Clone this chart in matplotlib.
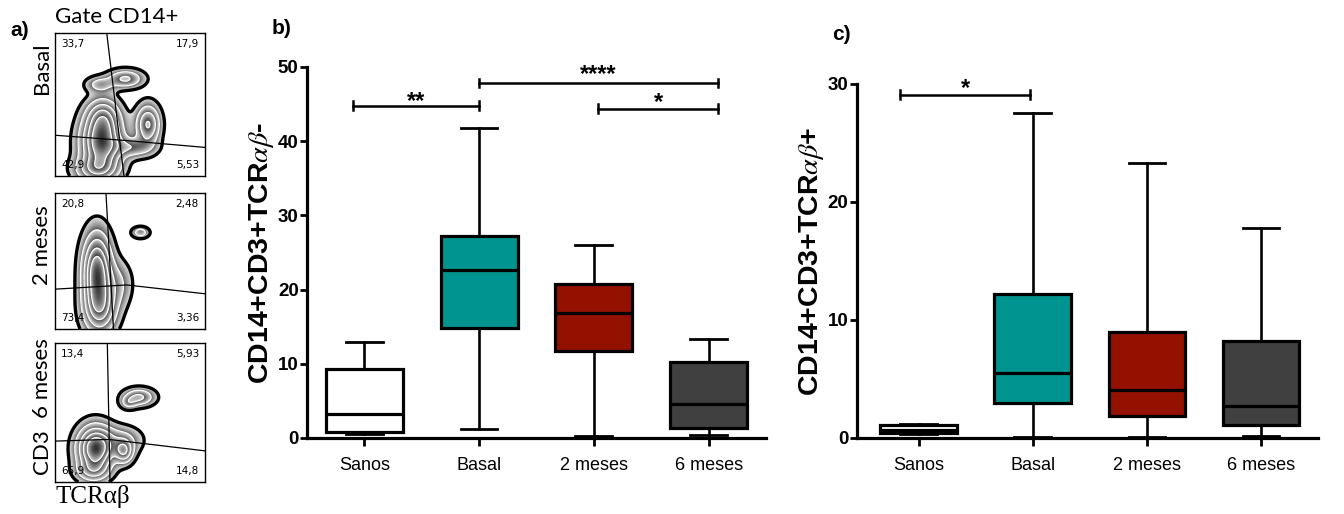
import numpy as np
import matplotlib
matplotlib.use('Agg')
import matplotlib.pyplot as plt

plt.rcParams['mathtext.fontset'] = 'stix'

# ---------------- data ----------------
categories = ['Sanos', 'Basal', '2 meses', '6 meses']
box_colors = ['#ffffff', '#009490', '#941100', '#404040']

# panel b : CD14+CD3+TCRab-
b_whislo = [0.5, 1.2, 0.3, 0.4]
b_q1 = [0.8, 14.8, 11.7, 1.3]
b_med = [3.2, 22.6, 16.8, 4.6]
b_q3 = [9.3, 27.2, 20.8, 10.2]
b_whishi = [13.0, 41.8, 26.0, 13.4]
b_yticks = [0, 10, 20, 30, 40, 50]
b_sig_labels = ['**', '****', '*']
b_sig_x0 = [0.9, 2.0, 3.04]
b_sig_x1 = [2.0, 4.08, 4.08]
b_sig_y = [44.8, 47.8, 44.4]

# panel c : CD14+CD3+TCRab+
c_whislo = [0.3, 0.1, 0.1, 0.2]
c_q1 = [0.4, 3.0, 1.9, 1.1]
c_med = [0.7, 5.5, 4.1, 2.7]
c_q3 = [1.1, 12.2, 9.0, 8.2]
c_whishi = [1.2, 27.5, 23.3, 17.8]
c_yticks = [0, 10, 20, 30]
c_sig_labels = ['*']
c_sig_x0 = [0.84]
c_sig_x1 = [1.98]
c_sig_y = [29.1]

# panel a : flow cytometry zebra plots
a_row_labels = ['Basal', '2 meses', '6 meses']
a_quadrants = [['33,7', '17,9', '42,9', '5,53'],
               ['20,8', '2,48', '73,4', '3,36'],
               ['13,4', '5,93', '65,9', '14,8']]
# population blobs: (x, y, sx, sy, weight) in panel fraction
a_blobs = [
    [(0.31, 0.24, 0.085, 0.12, 1.0), (0.32, 0.42, 0.07, 0.08, 0.45),
     (0.62, 0.36, 0.05, 0.085, 0.60), (0.52, 0.20, 0.09, 0.045, 0.30),
     (0.28, 0.05, 0.09, 0.06, 0.50), (0.47, 0.68, 0.075, 0.04, 0.40),
     (0.30, 0.64, 0.06, 0.035, 0.25)],
    [(0.28, 0.42, 0.06, 0.17, 1.0), (0.30, 0.15, 0.07, 0.12, 0.60),
     (0.42, 0.33, 0.06, 0.11, 0.20), (0.57, 0.71, 0.035, 0.025, 0.30)],
    [(0.27, 0.24, 0.075, 0.10, 1.0), (0.46, 0.22, 0.04, 0.055, 0.50),
     (0.44, 0.30, 0.09, 0.065, 0.22), (0.25, 0.08, 0.07, 0.05, 0.30),
     (0.56, 0.61, 0.065, 0.04, 0.40), (0.49, 0.57, 0.035, 0.03, 0.20)],
]
a_band_levels = [0.05, 0.18, 0.35, 0.55, 0.75]
# gate lines (panel fraction): vertical (top x, bottom x), horizontal (left y, cross x, cross y, right y)
a_vgate = [(0.345, 0.46), (0.34, 0.39), (0.349, 0.367)]
a_hgate = [(0.285, 0.45, 0.25, 0.20), (0.293, 0.478, 0.324, 0.259), (0.294, 0.36, 0.306, 0.224)]

# ---------------- figure ----------------
fig = plt.figure(figsize=(13.44, 5.14), dpi=100)

a_rects = [[0.0409, 0.6576, 0.1116, 0.2782],
           [0.0409, 0.3599, 0.1116, 0.2646],
           [0.0409, 0.0623, 0.1116, 0.2704]]
n = 300
gx, gy = np.meshgrid(np.linspace(0, 1, n), np.linspace(0, 1, n))
for i, rect in enumerate(a_rects):
    ax = fig.add_axes(rect)
    Z = np.zeros_like(gx)
    for (cx, cy, sx, sy, w) in a_blobs[i]:
        Z += w * np.exp(-((gx - cx) ** 2 / (2 * sx ** 2) + (gy - cy) ** 2 / (2 * sy ** 2)))
    Z = Z / Z.max()
    lv = np.array(a_band_levels + [1.01])
    idx = np.clip(np.searchsorted(lv, Z, side='right') - 1, 0, len(lv) - 2)
    frac = (Z - lv[idx]) / (lv[idx + 1] - lv[idx])
    shade = 0.92 - 0.55 * frac - 0.2 * Z
    shade = np.ma.masked_where(Z < a_band_levels[0], shade)
    ax.imshow(shade, cmap='gray', vmin=0, vmax=1, origin='lower', extent=(0, 1, 0, 1),
              aspect='auto', interpolation='bilinear')
    ax.contour(gx, gy, Z, levels=a_band_levels[1:], colors='white', linewidths=0.9)
    ax.contour(gx, gy, Z, levels=[a_band_levels[0]], colors='black', linewidths=2.4)
    vt, vb = a_vgate[i]
    ax.plot([vt, vb], [1, 0], color='black', lw=0.9)
    hl, hcx, hcy, hr = a_hgate[i]
    ax.plot([0, hcx, 1], [hl, hcy, hr], color='black', lw=0.9)
    q = a_quadrants[i]
    kw = dict(fontsize=7.5, family='DejaVu Sans', transform=ax.transAxes)
    ax.text(0.04, 0.92, q[0], ha='left', va='center', **kw)
    ax.text(0.96, 0.92, q[1], ha='right', va='center', **kw)
    ax.text(0.04, 0.08, q[2], ha='left', va='center', **kw)
    ax.text(0.96, 0.08, q[3], ha='right', va='center', **kw)
    ax.set_xlim(0, 1)
    ax.set_ylim(0, 1)
    ax.set_xticks([])
    ax.set_yticks([])
    for s in ax.spines.values():
        s.set_linewidth(1.0)

lab_font = ['Lato', 'DejaVu Sans']
fig.text(42 / 1344, 1 - 68 / 514, 'Basal', rotation=90, ha='center', va='center', fontsize=16, family=lab_font)
fig.text(42 / 1344, 1 - 245 / 514, '2 meses', rotation=90, ha='center', va='center', fontsize=16, family=lab_font)
fig.text(42 / 1344, 1 - 378 / 514, '6 meses', rotation=90, ha='center', va='center', fontsize=16, family=lab_font)
fig.text(42 / 1344, 1 - 452 / 514, 'CD3', rotation=90, ha='center', va='center', fontsize=16, family=lab_font)
fig.text(55 / 1344, 1 - 17 / 514, 'Gate CD14+', ha='left', va='center', fontsize=16, family=lab_font)
fig.text(55 / 1344, 1 - 497 / 514, 'TCRαβ', ha='left', va='center', fontsize=18, family=['Liberation Serif', 'DejaVu Serif'])

bold_font = ['Liberation Sans', 'DejaVu Sans']
fig.text(10 / 1344, 1 - 30 / 514, 'a)', ha='left', va='center', fontsize=15, fontweight='bold', family=bold_font)
fig.text(272 / 1344, 1 - 28 / 514, 'b)', ha='left', va='center', fontsize=15, fontweight='bold', family=bold_font)
fig.text(832 / 1344, 1 - 34 / 514, 'c)', ha='left', va='center', fontsize=15, fontweight='bold', family=bold_font)

STAR_PT = 17


def box_panel(rect, whislo, q1, med, q3, whishi, yticks, ylabel, sx0, sx1, sy, slab, gaps, tick_d, xlim):
    ax = fig.add_axes(rect)
    stats = []
    for k in range(len(categories)):
        stats.append(dict(med=med[k], q1=q1[k], q3=q3[k], whislo=whislo[k], whishi=whishi[k], fliers=[]))
    bp = ax.bxp(stats, positions=range(1, len(categories) + 1), widths=0.67, capwidths=0.32,
                patch_artist=True, showfliers=False,
                boxprops=dict(linewidth=2.3, edgecolor='black'),
                medianprops=dict(color='black', linewidth=2.3),
                whiskerprops=dict(color='black', linewidth=1.9),
                capprops=dict(color='black', linewidth=2.0))
    for patch, col in zip(bp['boxes'], box_colors):
        patch.set_facecolor(col)
    ax.set_xlim(*xlim)
    ax.set_ylim(yticks[0], yticks[-1])
    ax.set_yticks(yticks)
    ax.set_yticklabels([str(t) for t in yticks], fontsize=13.5, fontweight='bold',
                       family=['Liberation Sans Narrow', 'Liberation Sans'])
    ax.set_xticks(range(1, len(categories) + 1))
    ax.set_xticklabels(categories, fontsize=13, family=['Liberation Sans', 'DejaVu Sans'])
    ax.spines['top'].set_visible(False)
    ax.spines['right'].set_visible(False)
    ax.spines['left'].set_linewidth(2.3)
    ax.spines['bottom'].set_linewidth(2.3)
    ax.tick_params(axis='y', length=5, width=2.0, pad=1)
    ax.tick_params(axis='x', length=6, width=2.0, pad=8)
    ax.set_ylabel(ylabel, fontsize=20.5, fontweight='bold', family=['Liberation Sans', 'DejaVu Sans'], labelpad=1)
    star_px = STAR_PT / 72 * 100
    for x0, x1, y, lab, gap in zip(sx0, sx1, sy, slab, gaps):
        ax.plot([x0, x1], [y, y], color='black', lw=1.8, clip_on=False)
        ax.plot([x0, x0], [y - tick_d, y + tick_d], color='black', lw=1.8, clip_on=False)
        ax.plot([x1, x1], [y - tick_d, y + tick_d], color='black', lw=1.8, clip_on=False)
        off_px = gap - 0.57 * star_px
        ax.annotate(lab, xy=((x0 + x1) / 2, y), xytext=(0, off_px * 0.72), textcoords='offset points',
                    ha='center', va='baseline', fontsize=STAR_PT, fontweight='bold',
                    family=['Liberation Sans', 'DejaVu Sans'], annotation_clip=False)
    return ax


box_panel([0.2284, 0.1479, 0.3415, 0.7218], b_whislo, b_q1, b_med, b_q3, b_whishi, b_yticks,
          r'CD14+CD3+TCR$\alpha\beta$-', b_sig_x0, b_sig_x1, b_sig_y, b_sig_labels, [11, 16, 13], 0.55, (0.50, 4.5))
box_panel([0.6376, 0.1479, 0.343, 0.6887], c_whislo, c_q1, c_med, c_q3, c_whishi, c_yticks,
          r'CD14+CD3+TCR$\alpha\beta$+', c_sig_x0, c_sig_x1, c_sig_y, c_sig_labels, [13], 0.35, (0.46, 4.5))

fig.savefig('out.png', dpi=100)
